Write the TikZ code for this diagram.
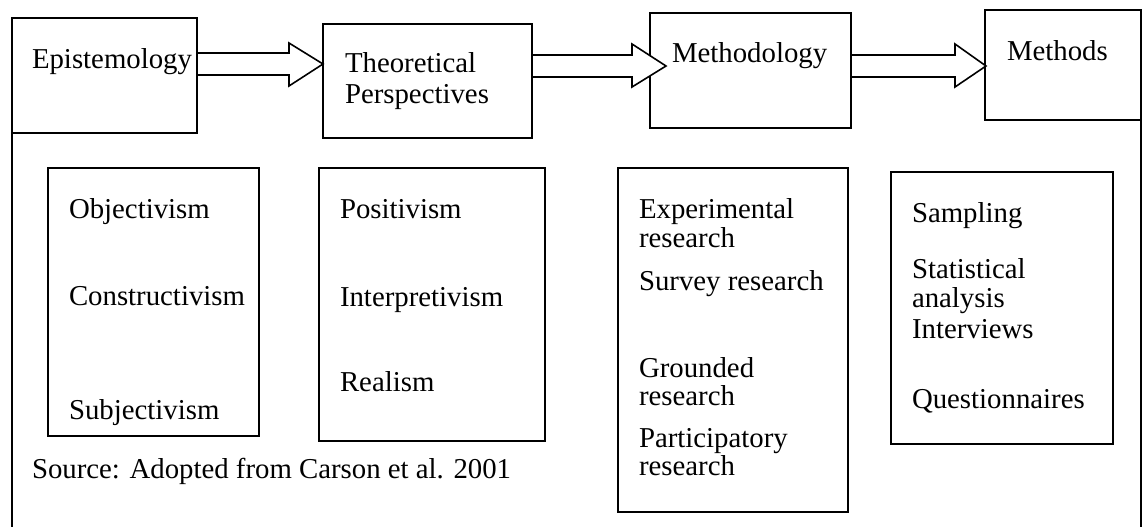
\documentclass[tikz,border=0pt]{standalone}
\usepackage{fontspec}
\setmainfont{Liberation Serif}
\begin{document}
\begin{tikzpicture}[x=1pt,y=-1pt,
  box/.style={draw=black,line width=1.6pt,rectangle,inner sep=0pt,outer sep=0pt,fill=none},
  lbl/.style={anchor=base west,inner sep=0pt,outer sep=0pt,font=\fontsize{28.8}{30}\selectfont},
  blockarrow/.style={draw=black,line width=1.6pt,fill=white,line join=miter}]
\fill[white] (0,0) rectangle (1148,527);
\useasboundingbox (0,0) rectangle (1148,527);

% top boxes
\node[box,minimum width=185pt,minimum height=115pt] (epi) at (104.5,75.5) {};
\node[box,minimum width=209pt,minimum height=114pt] (theo) at (427.5,81) {};
\node[box,minimum width=201pt,minimum height=115pt] (meth) at (750.5,70.5) {};
\node[box,minimum width=156pt,minimum height=110pt] (mtds) at (1063,65) {};

% lower boxes
\node[box,minimum width=211pt,minimum height=268pt] (bA) at (153.5,302) {};
\node[box,minimum width=226pt,minimum height=273pt] (bB) at (432,304.5) {};
\node[box,minimum width=230pt,minimum height=344pt] (bC) at (733,340) {};
\node[box,minimum width=222pt,minimum height=272pt] (bD) at (1002,308) {};

% frame sides
\coordinate (fl) at (12,527);
\coordinate (fr) at (1141,527);
\draw[line width=1.6pt] (epi.south west) -- (fl);
\draw[line width=1.6pt] (mtds.south east) -- (fr);

% block arrows
\draw[blockarrow] (epi.east |- 0,53) -- (289,53) -- (289,43) -- (323,64) -- (289,86) -- (289,75) -- (epi.east |- 0,75) -- cycle;
\draw[blockarrow] (theo.east |- 0,55) -- (632,55) -- (632,44) -- (666,66) -- (632,87) -- (632,77) -- (theo.east |- 0,77) -- cycle;
\draw[blockarrow] (meth.east |- 0,55) -- (955,55) -- (955,44) -- (986,66) -- (955,87) -- (955,77) -- (meth.east |- 0,77) -- cycle;

% top labels
\node[lbl] (tEpi) at (32,68) {Epistemology};
\node[lbl] (tTheo1) at (345,73) {Theoretical};
\node[lbl] (tTheo2) at (345,103) {Perspectives};
\node[lbl] (tMeth) at (672,63) {Methodology};
\node[lbl] (tMtds) at (1007,61) {Methods};

% box A
\node[lbl] (a1) at (69,218) {Objectivism};
\node[lbl] (a2) at (69,305) {Constructivism};
\node[lbl] (a3) at (69,419) {Subjectivism};

% box B
\node[lbl] (b1) at (340,218) {Positivism};
\node[lbl] (b2) at (340,306) {Interpretivism};
\node[lbl] (b3) at (340,391) {Realism};

% box C
\node[lbl] (c1) at (639,218) {Experimental};
\node[lbl] (c2) at (639,247) {research};
\node[lbl] (c3) at (639,290) {Survey research};
\node[lbl] (c4) at (639,377) {Grounded};
\node[lbl] (c5) at (639,405) {research};
\node[lbl] (c6) at (639,447) {Participatory};
\node[lbl] (c7) at (639,475) {research};

% box D
\node[lbl] (d1) at (912,222) {Sampling};
\node[lbl] (d2) at (912,278) {Statistical};
\node[lbl] (d3) at (912,307) {analysis};
\node[lbl] (d4) at (912,338) {Interviews};
\node[lbl] (d5) at (912,408) {Questionnaires};

% source
\node[lbl] (src) at (32,478) {Source: Adopted from Carson et al. 2001};
\end{tikzpicture}
\end{document}
